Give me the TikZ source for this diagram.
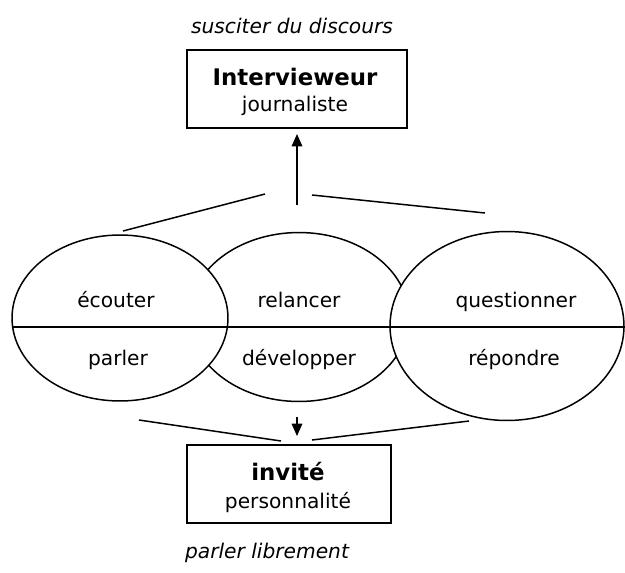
\documentclass[tikz,border=0pt]{standalone}
\usepackage{fontspec}
\setmainfont{DejaVu Sans}
\usetikzlibrary{arrows.meta}
\usetikzlibrary{positioning}
\usetikzlibrary{shapes.geometric}

\begin{document}
\begin{tikzpicture}[x=0.02cm, y=-0.02cm, line width=0.85pt,
    bulle/.style={draw, ellipse, fill=white, inner sep=0pt},
    cadre/.style={draw, rectangle, inner sep=0pt, minimum height=1.56cm},
    mot/.style={anchor=base, font=\fontsize{11.5}{13}\selectfont},
    titre/.style={anchor=base, font=\fontsize{13}{15}\selectfont\bfseries},
    role/.style={anchor=base, font=\fontsize{11.5}{13}\selectfont\itshape},
    fleche/.style={-{Triangle[length=7pt, width=6pt]}}]
    \useasboundingbox (0,0) rectangle (625,572);
    % les trois bulles
    \node[bulle, minimum width=4.4cm, minimum height=3.38cm] (relancer) at (299,317) {};
    \node[bulle, minimum width=4.32cm, minimum height=3.32cm] (ecouter) at (120,318) {};
    \node[bulle, minimum width=4.68cm, minimum height=3.78cm] (questionner) at (507,326) {};
    \coordinate (g) at (13,327);
    \coordinate (d) at (625,327);
    \draw (g) -- (d);
    \node[mot] (m1) at (116,307) {écouter};
    \node[mot] (m2) at (118,365) {parler};
    \node[mot] (m3) at (299,307) {relancer};
    \node[mot] (m4) at (299,365) {développer};
    \node[mot] (m5) at (516,307) {questionner};
    \node[mot] (m6) at (514,365) {répondre};
    % les boites
    \node[cadre, minimum width=4.4cm] (interviewer) at (297,89) {};
    \node[cadre, minimum width=4.08cm] (invite) at (289,484) {};
    \node[titre] (t1) at (295,85) {Intervieweur};
    \node[mot] (t2) at (295,111) {journaliste};
    \node[titre] (t3) at (288,480) {invité};
    \node[mot] (t4) at (288,508) {personnalité};
    \node[role] (r1) at (292,33) {susciter du discours};
    \node[role] (r2) at (267,558) {parler librement};
    % les traits
    \coordinate (a1) at (123,231);
    \coordinate (a2) at (265,194);
    \coordinate (a3) at (312,195);
    \coordinate (a4) at (485,213);
    \coordinate (b1) at (139,420);
    \coordinate (b2) at (281,441);
    \coordinate (b3) at (312,440);
    \coordinate (b4) at (469,421);
    \draw (a1) -- (a2);
    \draw (a3) -- (a4);
    \draw (b1) -- (b2);
    \draw (b3) -- (b4);
    \coordinate (h1) at (297,205);
    \coordinate (h2) at (297,134);
    \coordinate (k1) at (297,417);
    \coordinate (k2) at (297,436);
    \draw[fleche] (h1) -- (h2);
    \draw[fleche] (k1) -- (k2);
\end{tikzpicture}
\end{document}
